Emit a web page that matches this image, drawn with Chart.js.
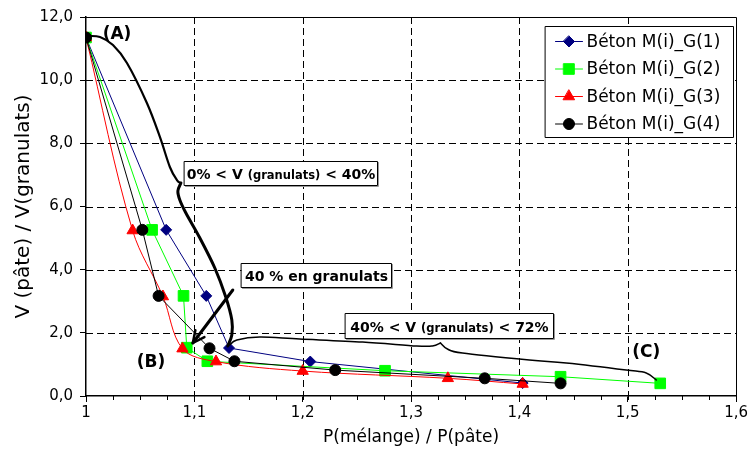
<!DOCTYPE html>
<html><head><meta charset="utf-8">
<script src="https://cdn.jsdelivr.net/npm/chart.js@4/dist/chart.umd.min.js"></script>
<style>html,body{margin:0;padding:0;background:#fff;overflow:hidden}</style>
</head><body>
<canvas id="c" width="750" height="452"></canvas>
<script>
// ---------- data ----------
const seriesLabels = ['Béton M(i)_G(1)', 'Béton M(i)_G(2)', 'Béton M(i)_G(3)', 'Béton M(i)_G(4)'];
const xG1 = [1, 1.074, 1.111, 1.132, 1.207, 1.403];
const yG1 = [11.35, 5.26, 3.17, 1.52, 1.09, 0.41];
const xG2 = [1, 1.061, 1.090, 1.093, 1.112, 1.276, 1.438, 1.530];
const yG2 = [11.35, 5.26, 3.17, 1.53, 1.10, 0.80, 0.61, 0.40];
const xG3 = [1, 1.043, 1.071, 1.089, 1.120, 1.200, 1.334, 1.403];
const yG3 = [11.35, 5.24, 3.15, 1.50, 1.09, 0.79, 0.56, 0.38];
const xG4 = [1, 1.052, 1.067, 1.114, 1.137, 1.230, 1.368, 1.438];
const yG4 = [11.35, 5.26, 3.17, 1.51, 1.10, 0.82, 0.56, 0.40];
const xTickLabels = ['1', '1,1', '1,2', '1,3', '1,4', '1,5', '1,6'];
const yTickLabels = ['0,0', '2,0', '4,0', '6,0', '8,0', '10,0', '12,0'];
const xTitle = 'P(mélange) / P(pâte)';
const yTitle = 'V (pâte) / V(granulats)';

// ---------- annotation geometry (data coordinates) ----------
const braceUpper = [[1.0018,11.398],[1.0129,11.367],[1.0249,11.113],[1.0378,10.544],[1.0562,9.277],[1.0682,8.201],[1.0774,7.251],[1.0839,6.839],[1.0876,6.744]];
const braceLower = [[1.0876,6.744],[1.0848,6.491],[1.0866,6.206],[1.0922,5.794],[1.1051,5.003],[1.1189,4.053],[1.1290,3.135],[1.1346,2.406],[1.1346,1.931],[1.1309,1.583]];
const brace2Left = [[1.1327,1.615],[1.1392,1.773],[1.1604,1.868],[1.1972,1.805],[1.2553,1.710],[1.3051,1.583],[1.3198,1.583],[1.3272,1.678]];
const brace2Right = [[1.3272,1.678],[1.3336,1.488],[1.3475,1.361],[1.4092,1.140],[1.4433,1.045],[1.4986,0.823],[1.5171,0.728],[1.5263,0.507]];
const arrowFrom = [1.1355, 3.356], arrowTo = [1.0986, 1.678];
const pointLabels = [{t:'(A)', at:[1.0286,11.43]}, {t:'(B)', at:[1.0599,1.045]}, {t:'(C)', at:[1.5171,1.361]}];
const boxes = [
  {at:[1.0903,7.441], w:193, h:24, parts:[['0% < V ',14],['(granulats)',11.5],[' < 40%',14]]},
  {at:[1.1429,4.211], w:150, h:24, parts:[['40 % en granulats',14]]},
  {at:[1.2387,2.628], w:208, h:25, parts:[['40% < V ',14],['(granulats)',11.5],[' < 72%',14]]}
];

const styles = [
  {color:'#000080', point:'rectRot', r:5.5, tension:0},
  {color:'#00FF00', point:'rect', r:7.5, tension:0},
  {color:'#FF0000', point:'triangle', r:6.5, tension:0.35},
  {color:'#000000', point:'circle', r:5.5, tension:0}
];
const xsAll = [xG1, xG2, xG3, xG4], ysAll = [yG1, yG2, yG3, yG4];

Chart.defaults.font.family = "'DejaVu Sans', sans-serif";
Chart.defaults.color = '#000';

const datasets = seriesLabels.map((lab, i) => ({
  label: lab,
  data: xsAll[i].map((x, j) => ({x: x, y: ysAll[i][j]})),
  showLine: true,
  borderColor: styles[i].color,
  backgroundColor: styles[i].color,
  borderWidth: 1,
  pointStyle: styles[i].point,
  pointRadius: styles[i].r,
  pointHoverRadius: styles[i].r,
  pointBorderWidth: 1,
  pointBorderColor: styles[i].color,
  pointBackgroundColor: styles[i].color,
  tension: styles[i].tension,
  order: 4 - i
}));

function smoothPath(ctx, pts) {
  ctx.moveTo(pts[0][0], pts[0][1]);
  for (let i = 0; i < pts.length - 1; i++) {
    const p0 = pts[i - 1] || pts[i], p1 = pts[i], p2 = pts[i + 1], p3 = pts[i + 2] || pts[i + 1];
    ctx.bezierCurveTo(p1[0] + (p2[0] - p0[0]) / 6, p1[1] + (p2[1] - p0[1]) / 6,
                      p2[0] - (p3[0] - p1[0]) / 6, p2[1] - (p3[1] - p1[1]) / 6, p2[0], p2[1]);
  }
}

function marker(ctx, style, r, x, y, color) {
  ctx.save();
  ctx.fillStyle = color; ctx.strokeStyle = color; ctx.lineWidth = 1;
  ctx.beginPath();
  if (style === 'rectRot') {
    ctx.moveTo(x, y - r); ctx.lineTo(x + r, y); ctx.lineTo(x, y + r); ctx.lineTo(x - r, y); ctx.closePath();
  } else if (style === 'rect') {
    const s = r * Math.SQRT1_2; ctx.rect(x - s, y - s, 2 * s, 2 * s);
  } else if (style === 'triangle') {
    ctx.moveTo(x, y - r); ctx.lineTo(x + r * 0.866, y + r * 0.5); ctx.lineTo(x - r * 0.866, y + r * 0.5); ctx.closePath();
  } else {
    ctx.arc(x, y, r, 0, Math.PI * 2);
  }
  ctx.fill(); ctx.stroke();
  ctx.restore();
}

const decor = {
  id: 'decor',
  beforeDatasetsDraw(chart) {
    const ctx = chart.ctx, a = chart.chartArea, sx = chart.scales.x, sy = chart.scales.y;
    ctx.save();
    ctx.strokeStyle = '#000'; ctx.lineWidth = 1; ctx.setLineDash([7, 4]);
    sx.ticks.forEach(t => {
      if (t.value <= sx.min + 1e-9 || t.value >= sx.max - 1e-9) return;
      const x = Math.round(sx.getPixelForValue(t.value)) + 0.5;
      ctx.beginPath(); ctx.moveTo(x, a.top); ctx.lineTo(x, a.bottom); ctx.stroke();
    });
    sy.ticks.forEach(t => {
      if (t.value <= sy.min + 1e-9 || t.value >= sy.max - 1e-9) return;
      const y = Math.round(sy.getPixelForValue(t.value)) + 0.5;
      ctx.beginPath(); ctx.moveTo(a.left, y); ctx.lineTo(a.right, y); ctx.stroke();
    });
    ctx.setLineDash([]);
    ctx.beginPath();
    ctx.moveTo(a.left, Math.round(a.top) + 0.5); ctx.lineTo(Math.round(a.right) + 0.5, Math.round(a.top) + 0.5);
    ctx.lineTo(Math.round(a.right) + 0.5, a.bottom);
    ctx.stroke();
    for (let v = sx.min; v <= sx.max + 1e-9; v += 0.025) {
      const x = Math.round(sx.getPixelForValue(v)) + 0.5;
      ctx.beginPath(); ctx.moveTo(x, a.bottom); ctx.lineTo(x, a.bottom + 4); ctx.stroke();
    }
    ctx.restore();
  },
  afterDatasetsDraw(chart) {
    const ctx = chart.ctx, a = chart.chartArea, sx = chart.scales.x, sy = chart.scales.y;
    const P = p => [sx.getPixelForValue(p[0]), sy.getPixelForValue(p[1])];
    ctx.save();
    ctx.strokeStyle = '#000'; ctx.lineCap = 'round'; ctx.lineJoin = 'round';
    [[braceUpper, 2.2], [braceLower, 3], [brace2Left, 1.5], [brace2Right, 1.5]].forEach(([pts, w]) => {
      ctx.lineWidth = w; ctx.beginPath(); smoothPath(ctx, pts.map(P)); ctx.stroke();
    });
    const f = P(arrowFrom), t = P(arrowTo);
    ctx.lineWidth = 3; ctx.beginPath(); ctx.moveTo(f[0], f[1]); ctx.lineTo(t[0], t[1]); ctx.stroke();
    const ang = Math.atan2(t[1] - f[1], t[0] - f[0]);
    ctx.lineWidth = 2.5; ctx.beginPath();
    ctx.moveTo(t[0] - 13 * Math.cos(ang - 0.45), t[1] - 13 * Math.sin(ang - 0.45));
    ctx.lineTo(t[0], t[1]);
    ctx.lineTo(t[0] - 13 * Math.cos(ang + 0.45), t[1] - 13 * Math.sin(ang + 0.45));
    ctx.stroke();
    boxes.forEach(b => {
      const p = P(b.at), x = Math.round(p[0]) + 0.5, y = Math.round(p[1]) + 0.5;
      ctx.fillStyle = '#fff'; ctx.fillRect(x, y, b.w, b.h);
      ctx.strokeStyle = '#999'; ctx.lineWidth = 1;
      ctx.beginPath(); ctx.moveTo(x + b.w + 1, y + 1); ctx.lineTo(x + b.w + 1, y + b.h + 1); ctx.lineTo(x + 1, y + b.h + 1); ctx.stroke();
      ctx.strokeStyle = '#000'; ctx.strokeRect(x, y, b.w, b.h);
      let total = 0;
      b.parts.forEach(([s, sz]) => { ctx.font = 'bold ' + sz + "px 'DejaVu Sans'"; total += ctx.measureText(s).width; });
      let cx = x + (b.w - total) / 2;
      ctx.fillStyle = '#000'; ctx.textBaseline = 'alphabetic'; ctx.textAlign = 'left';
      b.parts.forEach(([s, sz]) => {
        ctx.font = 'bold ' + sz + "px 'DejaVu Sans'";
        ctx.fillText(s, cx, y + b.h / 2 + 5.5);
        cx += ctx.measureText(s).width;
      });
    });
    ctx.font = "bold 17px 'DejaVu Sans'"; ctx.textAlign = 'center'; ctx.textBaseline = 'middle'; ctx.fillStyle = '#000';
    pointLabels.forEach(l => { const p = P(l.at); ctx.fillText(l.t, p[0], p[1]); });
    const lw = 188, lh = 111, lx = Math.round(a.right) - 3 - lw + 0.5, ly = Math.round(a.top) + 9 + 0.5;
    ctx.fillStyle = '#fff'; ctx.fillRect(lx, ly, lw, lh);
    ctx.strokeStyle = '#000'; ctx.lineWidth = 1; ctx.strokeRect(lx, ly, lw, lh);
    ctx.font = "17px 'DejaVu Sans'"; ctx.textAlign = 'left'; ctx.textBaseline = 'middle';
    seriesLabels.forEach((lab, i) => {
      const yy = ly + 15 + i * 27.5;
      ctx.strokeStyle = styles[i].color; ctx.lineWidth = 1;
      ctx.beginPath(); ctx.moveTo(lx + 10, yy); ctx.lineTo(lx + 37, yy); ctx.stroke();
      marker(ctx, styles[i].point, styles[i].r, lx + 23.5, yy, styles[i].color);
      ctx.fillStyle = '#000'; ctx.fillText(lab, lx + 41, yy + 1);
    });
    ctx.restore();
  }
};

new Chart(document.getElementById('c'), {
  type: 'scatter',
  data: {datasets: datasets},
  plugins: [decor],
  options: {
    responsive: false, animation: false, devicePixelRatio: 1, events: [],
    layout: {padding: {top: 17, right: 13, left: 0, bottom: 0}},
    plugins: {legend: {display: false}, tooltip: {enabled: false}},
    scales: {
      x: {
        type: 'linear', min: 1, max: 1.6,
        ticks: {stepSize: 0.1, autoSkip: false, maxRotation: 0, padding: 2, color: '#000', font: {size: 15},
          callback: v => xTickLabels[Math.round((v - 1) * 10)]},
        grid: {drawOnChartArea: false, drawTicks: true, tickLength: 6, tickColor: '#000', color: '#000', lineWidth: 1},
        border: {display: true, color: '#000', width: 1.5},
        title: {display: true, text: xTitle, color: '#000', font: {size: 17}, padding: {top: 0, bottom: 4}},
        afterFit: s => { s.height = 56; }
      },
      y: {
        type: 'linear', min: 0, max: 12,
        ticks: {stepSize: 2, padding: 7, color: '#000', font: {size: 15},
          callback: v => yTickLabels[Math.round(v / 2)]},
        grid: {drawOnChartArea: false, drawTicks: true, tickLength: 6, tickColor: '#000', color: '#000', lineWidth: 1},
        border: {display: true, color: '#000', width: 1.5},
        title: {display: true, text: yTitle, color: '#000', font: {size: 20}, padding: {top: 12, bottom: 0}},
        afterFit: s => { s.width = 86; }
      }
    }
  }
});
</script>
</body></html>
